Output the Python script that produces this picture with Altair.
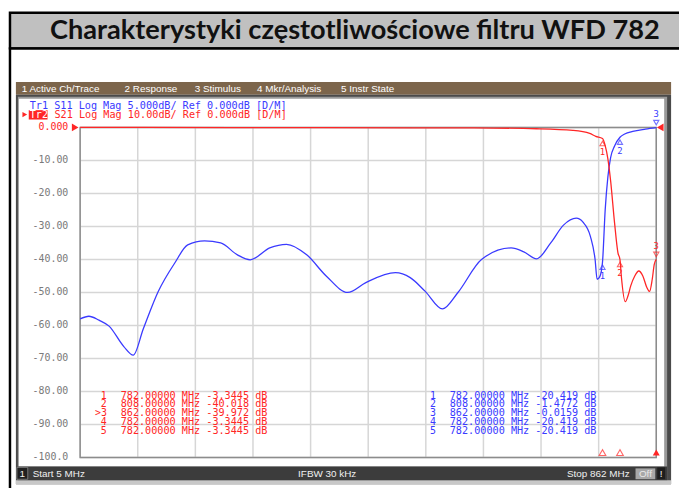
import altair as alt
import pandas as pd

TITLE = "Charakterystyki częstotliwościowe filtru WFD 782"
MENU_ITEMS = ["1 Active Ch/Trace", "2 Response", "3 Stimulus", "4 Mkr/Analysis", "5 Instr State"]
MENU_X = [22, 126, 197, 260, 345]

TR1_LABEL = "Tr1 S11 Log Mag 5.000dB/ Ref 0.000dB [D/M]"
TR2_LABEL = "S21 Log Mag 10.00dB/ Ref 0.000dB [D/M]"

START_MHZ, STOP_MHZ = 5, 862

# S11 (Tr1), true dB values (drawn at 5 dB/div, i.e. doubled on the 10 dB/div grid)
s11_freq = [5, 18, 33, 48, 70, 84, 99, 121, 146, 165, 190, 214, 239, 258, 287, 312, 342,
            371, 403, 430, 474, 496, 518, 544, 567, 602, 646, 665, 684, 705, 724, 743,
            753, 764, 771, 774, 778, 782, 786, 790, 794, 800, 808, 815, 827, 846, 862]
s11_db = [-29.0, -28.6, -29.2, -30.1, -33.2, -34.5, -30.5, -24.9, -20.5, -17.8, -17.2, -17.5,
          -19.3, -20.05, -18.25, -17.7, -19.3, -22.5, -25.0, -23.5, -22.0, -22.75, -24.8,
          -27.5, -25.0, -20.0, -18.25, -18.85, -19.9, -17.5, -14.8, -13.75, -14.35, -16.5,
          -20.0, -23.0, -22.6, -20.42, -12.5, -7.5, -4.6, -2.8, -1.48, -1.0, -0.6, -0.25, -0.016]

# S21 (Tr2), dB at 10 dB/div
s21_freq = [5, 100, 300, 500, 591, 684, 738, 763, 772, 782, 786, 790, 794, 800, 805, 808,
            810, 816, 820, 824, 830, 836, 842, 848, 852, 856, 859, 862]
s21_db = [0.0, 0.0, -0.05, -0.1, -0.15, -0.4, -0.9, -1.8, -2.7, -3.34, -5.5, -9.5, -16.0,
          -29.0, -38.0, -40.02, -45.0, -52.8, -51.0, -48.0, -45.0, -43.5, -45.0, -48.5,
          -49.7, -46.0, -41.5, -39.97]

y_ticks = [0, -10, -20, -30, -40, -50, -60, -70, -80, -90, -100]
y_labels = ["0.000", "-10.00", "-20.00", "-30.00", "-40.00", "-50.00", "-60.00",
            "-70.00", "-80.00", "-90.00", "-100.0"]
x_grid = [START_MHZ + k * (STOP_MHZ - START_MHZ) / 10 for k in range(11)]

mk_idx = ["1", "2", ">3", "4", "5"]
mk_freq_txt = ["782.00000", "808.00000", "862.00000", "782.00000", "782.00000"]
s21_mk_txt = ["-3.3445", "-40.018", "-39.972", "-3.3445", "-3.3445"]
s11_mk_txt = ["-20.419", "-1.4772", "-0.0159", "-20.419", "-20.419"]

mk_freq = [782, 808, 862]
mk_num = ["1", "2", "3"]
s21_mk = [-3.3445, -40.018, -39.972]
s11_mk = [-20.419, -1.4772, -0.0159]

RED = "#ff2626"
BLUE = "#3a3aff"
MONO = "DejaVu Sans Mono"
SANS = "Liberation Sans"

W, H = 583, 334
PX0, PY0 = 81, 126

xs = alt.Scale(domain=[START_MHZ, STOP_MHZ], nice=False, zero=False)
ys = alt.Scale(domain=[-100, 0], nice=False, zero=False)

one = pd.DataFrame({"k": [0]})


def X(px):
    return px - PX0


def Y(py):
    return py - PY0


def rect(x1, y1, x2, y2, fill=None, stroke=None, sw=1.0):
    kw = {}
    if fill is None:
        kw["fill"] = "white"
        kw["fillOpacity"] = 0
    else:
        kw["fill"] = fill
    if stroke is not None:
        kw["stroke"] = stroke
        kw["strokeWidth"] = sw
    return alt.Chart(one).mark_rect(**kw).encode(
        x=alt.value(X(x1)), x2=alt.value(X(x2)), y=alt.value(Y(y1)), y2=alt.value(Y(y2)))


def text(x, y, s, color="black", size=10, font=MONO, align="left", weight="normal"):
    return alt.Chart(one).mark_text(
        text=s, color=color, fontSize=size, font=font, align=align,
        fontWeight=weight, baseline="middle").encode(x=alt.value(X(x)), y=alt.value(Y(y)))


layers = []
# title box and outer frame
layers.append(rect(10, 10, 720, 46, fill="#c0c0c0", stroke="black", sw=2.5))
layers.append(rect(10, 46, 720, 520, fill=None, stroke="black", sw=2.5))
layers.append(text(359, 28.5, TITLE, color="#111111", size=27.5, font="Lato", align="center", weight="bold"))
# menu bar
layers.append(rect(16, 80, 679, 93, fill="#7c654b"))
for lbl, mx in zip(MENU_ITEMS, MENU_X):
    layers.append(text(mx, 87, lbl, color="white", size=10, font=SANS))
# analyser screen frame
layers.append(rect(16, 93, 679, 487, fill="#4a4a4a"))
layers.append(rect(18, 95, 675, 485, fill="#9a9a9a"))
layers.append(rect(19, 97, 672, 469, fill="white"))
layers.append(rect(16, 483, 679, 487, fill="#c8c8c8"))
# status bar
layers.append(rect(18, 469, 675, 483, fill="#3c3c3c"))
layers.append(rect(17, 470, 28, 482, fill="#202020", stroke="#8a8a8a", sw=0.8))
layers.append(text(22.5, 476.5, "1", color="#f0f0f0", size=10, font=SANS, align="center"))
layers.append(text(33, 476.5, "Start 5 MHz", color="#f0f0f0", size=10, font=SANS))
layers.append(text(331, 476.5, "IFBW 30 kHz", color="#f0f0f0", size=10, font=SANS, align="center"))
layers.append(text(637, 476.5, "Stop 862 MHz", color="#f0f0f0", size=10, font=SANS, align="right"))
layers.append(rect(643, 471, 663, 482, fill="#a8a8a8"))
layers.append(text(653, 476.5, "Off", color="#e8e8e8", size=10, font=SANS, align="center"))
layers.append(rect(665, 470, 673, 482, fill="#1e1e1e"))
layers.append(text(669, 476.5, "!", color="#f0f0f0", size=10, font=SANS, align="center"))

# grid
layers.append(alt.Chart(pd.DataFrame({"f": x_grid})).mark_rule(color="#d6d6d6", strokeWidth=1.5)
              .encode(x=alt.X("f:Q", scale=xs, axis=None)))
layers.append(alt.Chart(pd.DataFrame({"v": y_ticks})).mark_rule(color="#d6d6d6", strokeWidth=1.5)
              .encode(y=alt.Y("v:Q", scale=ys, axis=None)))
layers.append(rect(PX0, PY0, PX0 + W, PY0 + H, fill=None, stroke="#8c8c8c", sw=1.5))

# y tick labels
ylab = pd.DataFrame({"v": y_ticks, "t": y_labels,
                     "c": ["red"] + ["grey"] * (len(y_ticks) - 1)})
layers.append(alt.Chart(ylab).mark_text(align="right", baseline="middle", font=MONO, fontSize=10)
              .encode(y=alt.Y("v:Q", scale=ys, axis=None), x=alt.value(-12), text="t:N",
                      color=alt.Color("c:N", scale=alt.Scale(domain=["red", "grey"],
                                                             range=[RED, "#7a7a7a"]), legend=None)))

# traces
s11 = pd.DataFrame({"f": s11_freq, "db": s11_db})
s21 = pd.DataFrame({"f": s21_freq, "db": s21_db})
layers.append(alt.Chart(s11).transform_calculate(disp="datum.db * 2")
              .mark_line(color=BLUE, strokeWidth=1.3, interpolate="monotone")
              .encode(x=alt.X("f:Q", scale=xs, axis=None), y=alt.Y("disp:Q", scale=ys, axis=None)))
layers.append(alt.Chart(s21).mark_line(color=RED, strokeWidth=1.3, interpolate="monotone")
              .encode(x=alt.X("f:Q", scale=xs, axis=None), y=alt.Y("db:Q", scale=ys, axis=None)))

# marker glyphs on traces
mk = pd.DataFrame({"f": mk_freq, "n": mk_num, "s21": s21_mk, "s11": s11_mk})
for col, colr, factor in [("s21", RED, 1), ("s11", BLUE, 2)]:
    base = alt.Chart(mk).transform_calculate(y=f"datum.{col} * {factor}")
    enc = dict(x=alt.X("f:Q", scale=xs, axis=None), y=alt.Y("y:Q", scale=ys, axis=None))
    below = base.transform_filter("datum.f < 862")
    above = base.transform_filter("datum.f >= 862")
    layers.append(below.mark_point(shape="triangle-up", filled=False, size=28, color=colr,
                                   strokeWidth=1.1, yOffset=5).encode(**enc))
    layers.append(below.mark_text(color=colr, font=MONO, fontSize=9, dy=14).encode(text="n:N", **enc))
    layers.append(above.mark_point(shape="triangle-down", filled=False, size=28, color=colr,
                                   strokeWidth=1.1, yOffset=-5).encode(**enc))
    layers.append(above.mark_text(color=colr, font=MONO, fontSize=9, dy=-14).encode(text="n:N", **enc))

# stimulus markers at bottom
bot = pd.DataFrame({"f": mk_freq, "active": [False, False, True]})
layers.append(alt.Chart(bot).transform_filter("!datum.active")
              .mark_point(shape="triangle-up", filled=False, size=45, color=RED, strokeWidth=1.1)
              .encode(x=alt.X("f:Q", scale=xs, axis=None), y=alt.value(H - 5)))
layers.append(alt.Chart(bot).transform_filter("datum.active")
              .mark_point(shape="triangle-up", filled=True, size=50, color=RED, opacity=1)
              .encode(x=alt.X("f:Q", scale=xs, axis=None), y=alt.value(H - 5)))

# reference level arrows
layers.append(alt.Chart(one).mark_point(shape="triangle-right", filled=True, size=60, color=RED, opacity=1)
              .encode(x=alt.value(X(76)), y=alt.value(0)))
layers.append(alt.Chart(one).mark_point(shape="triangle-left", filled=True, size=60, color=RED, opacity=1)
              .encode(x=alt.value(X(668)), y=alt.value(0)))

# trace header
layers.append(text(30, 104, TR1_LABEL, color=BLUE, size=10.3))
layers.append(alt.Chart(one).mark_point(shape="triangle-right", filled=True, size=30, color=RED, opacity=1)
              .encode(x=alt.value(X(25)), y=alt.value(Y(113))))
layers.append(rect(29, 108.5, 48, 118, fill=RED))
layers.append(text(30, 113.5, "Tr2", color="white", size=10.3))
layers.append(text(55, 113.5, TR2_LABEL, color=RED, size=10.3))

# marker tables
for i in range(5):
    yy = 397.5 + i * 8.9
    layers.append(text(108, yy, mk_idx[i], color=RED, size=10, align="right"))
    layers.append(text(122, yy, f"{mk_freq_txt[i]} MHz {s21_mk_txt[i]} dB", color=RED, size=10.3))
    layers.append(text(441, yy, mk_idx[i].replace(">", ""), color=BLUE, size=10, align="right"))
    layers.append(text(455, yy, f"{mk_freq_txt[i]} MHz {s11_mk_txt[i]} dB", color=BLUE, size=10.3))

chart = alt.layer(*layers).properties(
    width=W, height=H,
    autosize=alt.AutoSizeParams(type="none"),
    padding={"left": PX0 - 8, "top": PY0 - 8, "right": 687 - 8 - (PX0 - 8) - W, "bottom": 488 - 8 - (PY0 - 8) - H},
).configure_view(stroke=None)

chart.save("out.html", embed_options={"renderer": "svg", "actions": False})
